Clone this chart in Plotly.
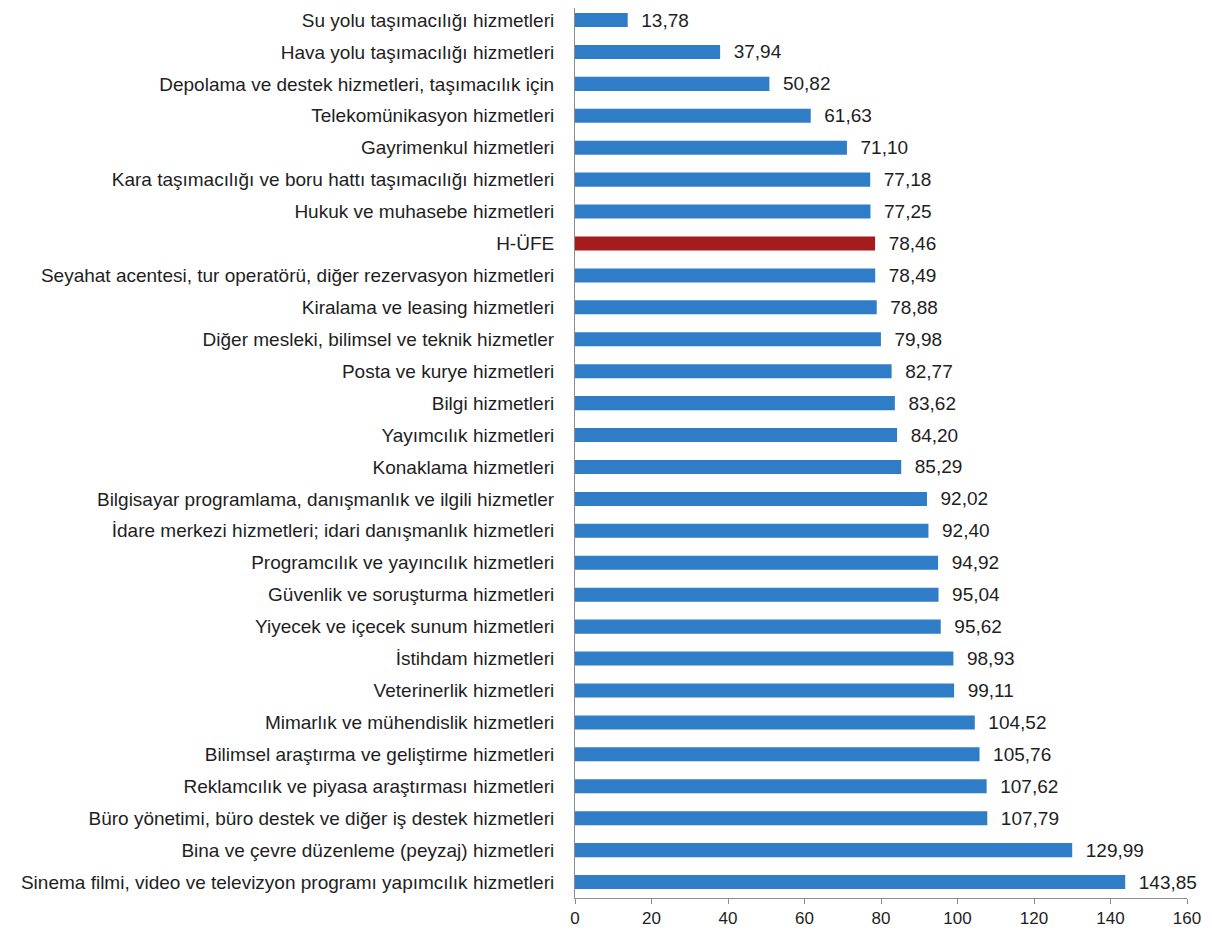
import plotly.graph_objects as go

categories = [
    "Su yolu taşımacılığı hizmetleri",
    "Hava yolu taşımacılığı hizmetleri",
    "Depolama ve destek hizmetleri, taşımacılık için",
    "Telekomünikasyon hizmetleri",
    "Gayrimenkul hizmetleri",
    "Kara taşımacılığı ve boru hattı taşımacılığı hizmetleri",
    "Hukuk ve muhasebe hizmetleri",
    "H-ÜFE",
    "Seyahat acentesi, tur operatörü, diğer rezervasyon hizmetleri",
    "Kiralama ve leasing hizmetleri",
    "Diğer mesleki, bilimsel ve teknik hizmetler",
    "Posta ve kurye hizmetleri",
    "Bilgi hizmetleri",
    "Yayımcılık hizmetleri",
    "Konaklama hizmetleri",
    "Bilgisayar programlama, danışmanlık ve ilgili hizmetler",
    "İdare merkezi hizmetleri; idari danışmanlık hizmetleri",
    "Programcılık ve yayıncılık hizmetleri",
    "Güvenlik ve soruşturma hizmetleri",
    "Yiyecek ve içecek sunum hizmetleri",
    "İstihdam hizmetleri",
    "Veterinerlik hizmetleri",
    "Mimarlık ve mühendislik hizmetleri",
    "Bilimsel araştırma ve geliştirme hizmetleri",
    "Reklamcılık ve piyasa araştırması hizmetleri",
    "Büro yönetimi, büro destek ve diğer iş destek hizmetleri",
    "Bina ve çevre düzenleme (peyzaj) hizmetleri",
    "Sinema filmi, video ve televizyon programı yapımcılık hizmetleri",
]
values = [13.78, 37.94, 50.82, 61.63, 71.10, 77.18, 77.25, 78.46, 78.49, 78.88,
          79.98, 82.77, 83.62, 84.20, 85.29, 92.02, 92.40, 94.92, 95.04, 95.62,
          98.93, 99.11, 104.52, 105.76, 107.62, 107.79, 129.99, 143.85]
x_ticks = [0, 20, 40, 60, 80, 100, 120, 140, 160]
highlight = "H-ÜFE"

colors = ["#A51C1E" if c == highlight else "#2F7DC6" for c in categories]
labels = ["\u00a0\u00a0" + f"{v:.2f}".replace(".", ",") for v in values]

fig = go.Figure(go.Bar(
    x=values, y=categories, orientation="h",
    marker=dict(color=colors, line=dict(width=0)),
    text=labels, textposition="outside", cliponaxis=False,
    constraintext="none",
    textfont=dict(family="Liberation Sans, Arial", size=19, color="#1E1E1E"),
))

fig.update_layout(
    width=1212, height=936,
    margin=dict(l=567, r=33, t=0, b=46, autoexpand=False),
    paper_bgcolor="white", plot_bgcolor="white",
    bargap=0.56, showlegend=False,
    font=dict(family="Liberation Sans, Arial", size=19, color="#1E1E1E"),
)
fig.update_xaxes(
    range=[0, 160], tickvals=x_ticks, ticktext=[str(t) for t in x_ticks],
    showgrid=False, zeroline=False, showline=True, linecolor="#8C8C8C", linewidth=1,
    ticks="outside", ticklen=5, tickcolor="#8C8C8C", automargin=False,
    tickfont=dict(size=17, color="#1E1E1E"), fixedrange=True,
)
fig.update_yaxes(
    range=[27.5, -0.376], showgrid=False, zeroline=False, automargin=False,
    showline=True, linecolor="#8C8C8C", linewidth=1, ticks="",
    ticklabelstandoff=16, tickfont=dict(size=19, color="#1E1E1E"),
)

fig.write_html("out.html")
